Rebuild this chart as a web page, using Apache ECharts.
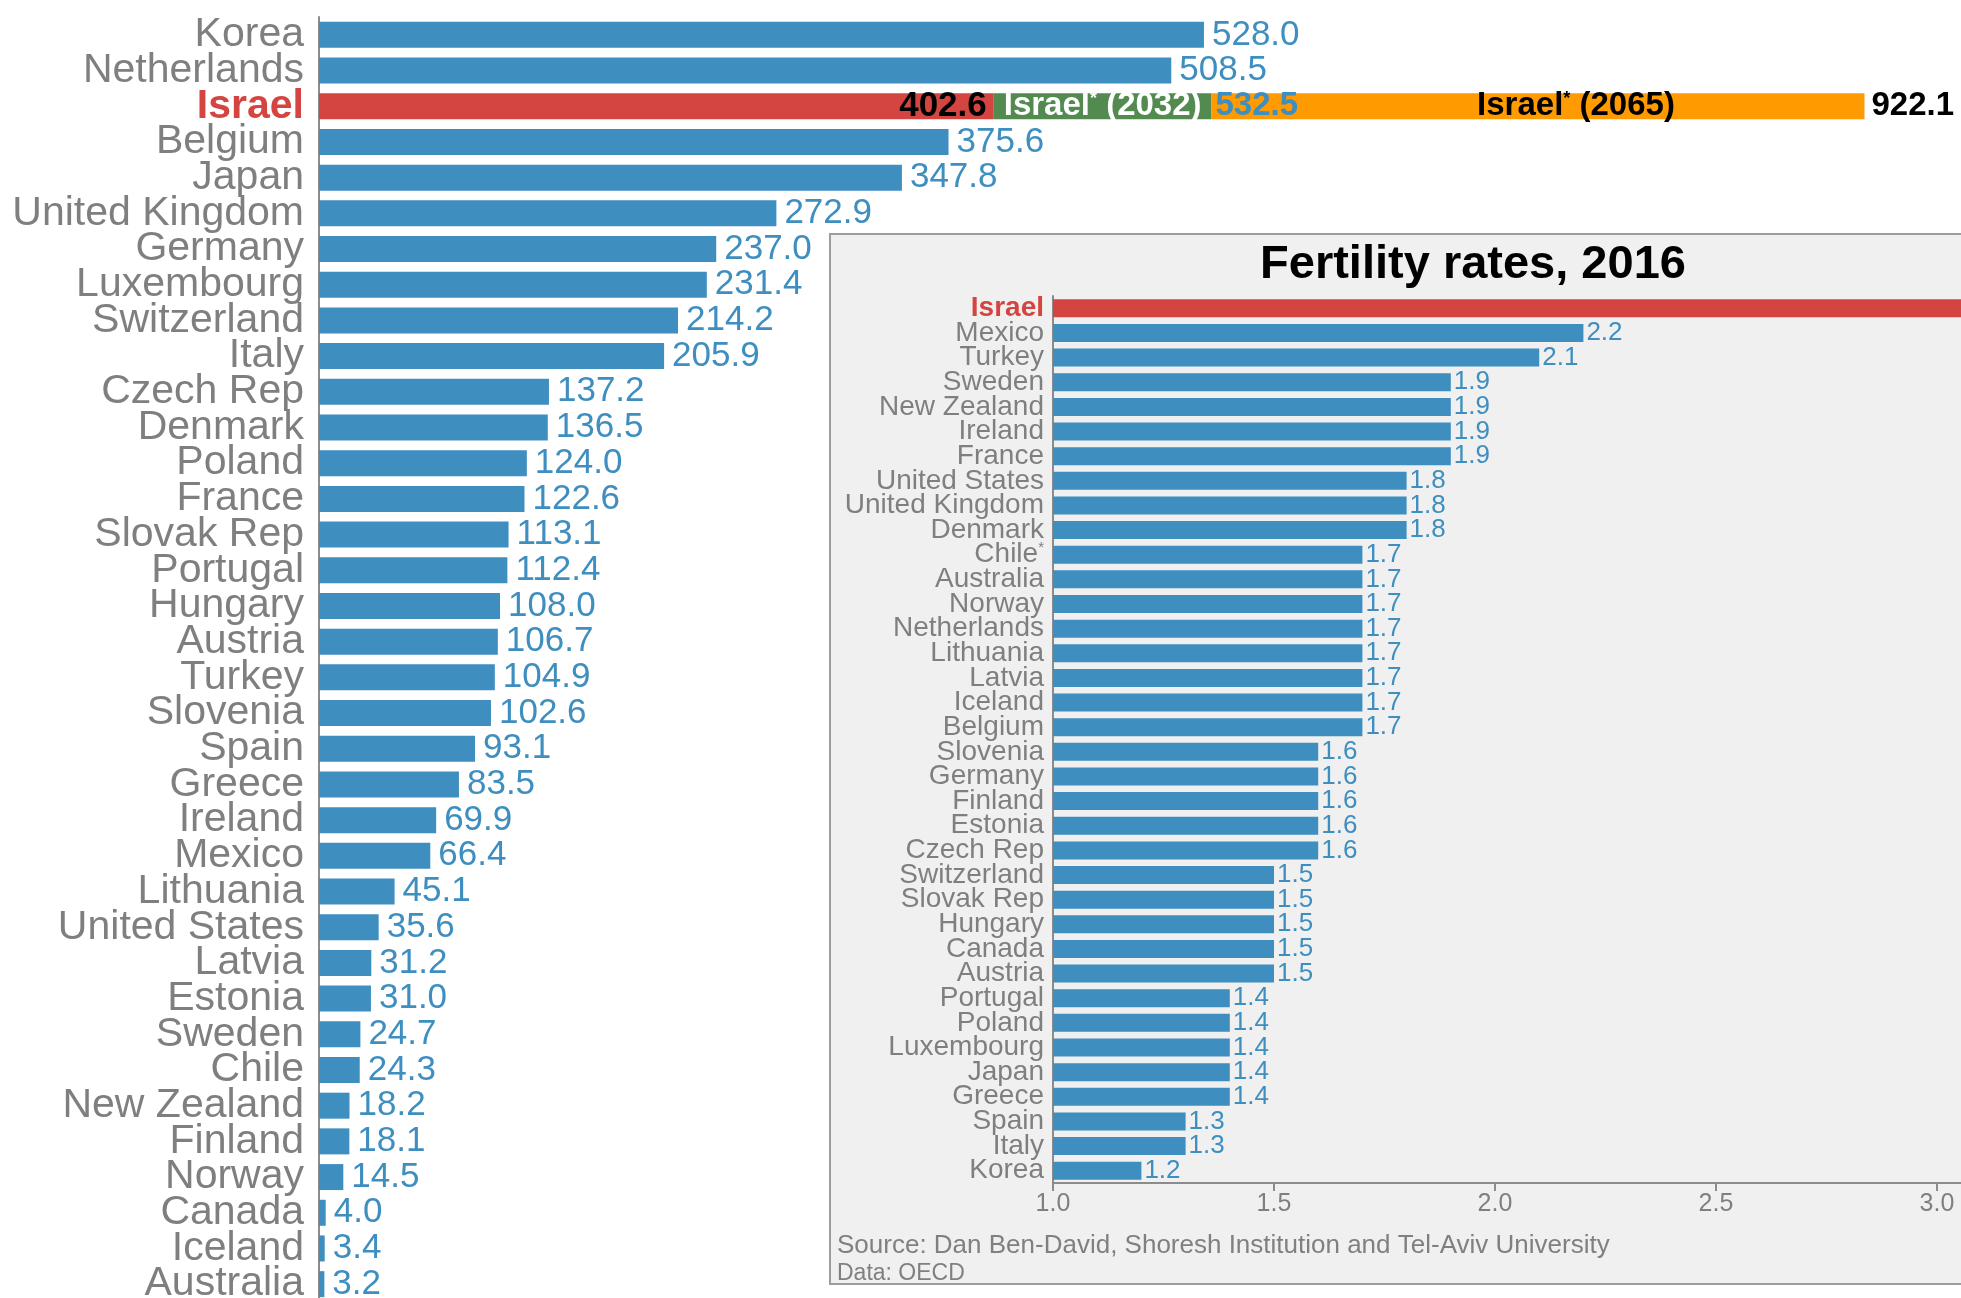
<!DOCTYPE html>
<html>
<head>
<meta charset="utf-8">
<title>Population density and fertility rates</title>
<script src="https://cdn.jsdelivr.net/npm/echarts@6/dist/echarts.min.js"></script>
<style>
  html, body { margin: 0; padding: 0; background: #ffffff; }
  #chart { width: 1961px; height: 1298px; }
</style>
</head>
<body>
<div id="chart"></div>
<script>
// population density, top to bottom
const densityCountries = ['Korea', 'Netherlands', 'Israel', 'Belgium', 'Japan', 'United Kingdom', 'Germany',
  'Luxembourg', 'Switzerland', 'Italy', 'Czech Rep', 'Denmark', 'Poland', 'France', 'Slovak Rep', 'Portugal',
  'Hungary', 'Austria', 'Turkey', 'Slovenia', 'Spain', 'Greece', 'Ireland', 'Mexico', 'Lithuania',
  'United States', 'Latvia', 'Estonia', 'Sweden', 'Chile', 'New Zealand', 'Finland', 'Norway', 'Canada',
  'Iceland', 'Australia'];
const densityValues = [528.0, 508.5, 402.6, 375.6, 347.8, 272.9, 237.0, 231.4, 214.2, 205.9, 137.2, 136.5,
  124.0, 122.6, 113.1, 112.4, 108.0, 106.7, 104.9, 102.6, 93.1, 83.5, 69.9, 66.4, 45.1, 35.6, 31.2, 31.0,
  24.7, 24.3, 18.2, 18.1, 14.5, 4.0, 3.4, 3.2];

// Israel projections
const israel2032 = 532.5;
const israel2065 = 922.1;

// fertility rates 2016, top to bottom
const fertilityCountries = ['Israel', 'Mexico', 'Turkey', 'Sweden', 'New Zealand', 'Ireland', 'France',
  'United States', 'United Kingdom', 'Denmark', 'Chile', 'Australia', 'Norway', 'Netherlands', 'Lithuania',
  'Latvia', 'Iceland', 'Belgium', 'Slovenia', 'Germany', 'Finland', 'Estonia', 'Czech Rep', 'Switzerland',
  'Slovak Rep', 'Hungary', 'Canada', 'Austria', 'Portugal', 'Poland', 'Luxembourg', 'Japan', 'Greece',
  'Spain', 'Italy', 'Korea'];
const fertilityValues = [3.1, 2.2, 2.1, 1.9, 1.9, 1.9, 1.9, 1.8, 1.8, 1.8, 1.7, 1.7, 1.7, 1.7, 1.7, 1.7,
  1.7, 1.7, 1.6, 1.6, 1.6, 1.6, 1.6, 1.5, 1.5, 1.5, 1.5, 1.5, 1.4, 1.4, 1.4, 1.4, 1.4, 1.3, 1.3, 1.2];
const fertilityTicks = [1.0, 1.5, 2.0, 2.5, 3.0];

const BLUE = '#3e8ec0';
const RED = '#d44541';
const GREEN = '#528a4f';
const ORANGE = '#ff9a00';
const GREY = '#7f7f7f';
const FONT = '"Liberation Sans", Arial, sans-serif';

const chart = echarts.init(document.getElementById('chart'), null, { renderer: 'canvas' });

const ilIdx = densityCountries.indexOf('Israel');
const onlyIsrael = (v) => densityCountries.map((c, i) => (i === ilIdx ? v : '-'));

const mainData = densityValues.map((v, i) => {
  if (i !== ilIdx) return v;
  return {
    value: v,
    itemStyle: { color: RED },
    label: { position: 'insideRight', color: '#000', fontWeight: 'bold', distance: 7 }
  };
});

// superscript asterisk for the projected Israel labels
const starRich = {
  b: { fontFamily: FONT, fontSize: 33, fontWeight: 'bold' },
  s: { fontFamily: FONT, fontSize: 18, fontWeight: 'bold', verticalAlign: 'top', padding: [0, 0, 14, 0] }
};

const option = {
  backgroundColor: '#ffffff',
  animation: false,
  textStyle: { fontFamily: FONT },
  graphic: [
    {
      type: 'rect',
      z: -10,
      shape: { x: 830, y: 234, width: 1200, height: 1050 },
      style: { fill: '#eff0ef', stroke: '#9d9d9d', lineWidth: 2 }
    },
    {
      type: 'text',
      z: 10,
      x: 1473, y: 265,
      style: {
        text: 'Fertility rates, 2016', fill: '#000', font: 'bold 47px ' + FONT,
        textAlign: 'center', textVerticalAlign: 'middle'
      }
    },
    {
      type: 'text',
      z: 10,
      x: 837, y: 1246,
      style: {
        text: 'Source: Dan Ben-David, Shoresh Institution and Tel-Aviv University',
        fill: '#808080', font: '26px ' + FONT, textAlign: 'left', textVerticalAlign: 'middle'
      }
    },
    {
      type: 'text',
      z: 10,
      x: 837, y: 1274,
      style: {
        text: 'Data: OECD', fill: '#808080', font: '23px ' + FONT,
        textAlign: 'left', textVerticalAlign: 'middle'
      }
    }
  ],
  grid: [
    { left: 319, top: 17, width: 1609, height: 1285, outerBoundsMode: 'none' },
    { left: 1053, top: 296, width: 1105, height: 887, outerBoundsMode: 'none' }
  ],
  xAxis: [
    { gridIndex: 0, type: 'value', min: 0, max: 960, show: false },
    {
      gridIndex: 1, type: 'value',
      min: fertilityTicks[0], max: 3.5, interval: fertilityTicks[1] - fertilityTicks[0],
      axisLine: { show: true, lineStyle: { color: '#8c8c8c', width: 2 } },
      axisTick: { show: true, length: 8, lineStyle: { color: '#8c8c8c', width: 2 } },
      splitLine: { show: false },
      axisLabel: {
        color: GREY, fontSize: 25, margin: 9,
        formatter: (v) => v.toFixed(1)
      }
    }
  ],
  yAxis: [
    {
      gridIndex: 0, type: 'category', data: densityCountries, inverse: true,
      axisLine: { show: true, lineStyle: { color: '#8c8c8c', width: 2 } },
      axisTick: { show: false },
      axisLabel: {
        interval: 0, color: GREY, fontSize: 41, margin: 15,
        formatter: (v) => (v === 'Israel' ? '{il|' + v + '}' : v),
        rich: { il: { color: RED, fontWeight: 'bold', fontSize: 41, fontFamily: FONT } }
      }
    },
    {
      gridIndex: 1, type: 'category', data: fertilityCountries, inverse: true,
      axisLine: { show: true, lineStyle: { color: '#8c8c8c', width: 2 } },
      axisTick: { show: false },
      axisLabel: {
        interval: 0, color: GREY, fontSize: 28, margin: 9,
        formatter: (v) => {
          if (v === 'Israel') return '{il|' + v + '}';
          if (v === 'Chile') return 'Chile{s|*}';
          return v;
        },
        rich: {
          il: { color: RED, fontWeight: 'bold', fontSize: 28, fontFamily: FONT },
          s: { color: GREY, fontSize: 15, fontFamily: FONT, verticalAlign: 'top', padding: [0, 0, 10, 0] }
        }
      }
    }
  ],
  series: [
    {
      name: 'Density',
      type: 'bar',
      xAxisIndex: 0, yAxisIndex: 0,
      stack: 'il',
      barWidth: 26, barGap: '-100%',
      itemStyle: { color: BLUE },
      label: {
        show: true, position: 'right', distance: 8,
        color: BLUE, fontSize: 35, fontFamily: FONT,
        formatter: (p) => Number(p.value).toFixed(1)
      },
      data: mainData
    },
    {
      name: 'Israel 2032',
      type: 'bar',
      xAxisIndex: 0, yAxisIndex: 0,
      stack: 'il',
      barWidth: 26, barGap: '-100%',
      itemStyle: { color: GREEN },
      label: {
        show: true, position: 'inside', color: '#fff',
        formatter: '{b|Israel}{s|*}{b| (2032)}',
        rich: starRich
      },
      data: onlyIsrael(+(israel2032 - densityValues[ilIdx]).toFixed(1))
    },
    {
      name: 'Israel 2065',
      type: 'bar',
      xAxisIndex: 0, yAxisIndex: 0,
      stack: 'il',
      barWidth: 26, barGap: '-100%',
      itemStyle: { color: ORANGE },
      label: {
        show: true, position: 'inside', color: '#000', offset: [38, 0],
        formatter: '{b|Israel}{s|*}{b| (2065)}',
        rich: starRich
      },
      data: onlyIsrael(+(israel2065 - israel2032).toFixed(1))
    },
    {
      name: 'label 2032',
      type: 'bar',
      silent: true,
      xAxisIndex: 0, yAxisIndex: 0,
      barWidth: 26, barGap: '-100%',
      itemStyle: { color: 'rgba(0,0,0,0)' },
      label: {
        show: true, position: 'right', distance: 4,
        color: BLUE, fontSize: 33, fontWeight: 'bold', fontFamily: FONT,
        formatter: (p) => Number(p.value).toFixed(1)
      },
      data: onlyIsrael(israel2032)
    },
    {
      name: 'label 2065',
      type: 'bar',
      silent: true,
      xAxisIndex: 0, yAxisIndex: 0,
      barWidth: 26, barGap: '-100%',
      itemStyle: { color: 'rgba(0,0,0,0)' },
      label: {
        show: true, position: 'right', distance: 7,
        color: '#000', fontSize: 33, fontWeight: 'bold', fontFamily: FONT,
        formatter: (p) => Number(p.value).toFixed(1)
      },
      data: onlyIsrael(israel2065)
    },
    {
      name: 'Fertility',
      type: 'bar',
      xAxisIndex: 1, yAxisIndex: 1,
      barWidth: 18,
      itemStyle: { color: BLUE },
      label: {
        show: true, position: 'right', distance: 3,
        color: BLUE, fontSize: 26, fontFamily: FONT,
        formatter: (p) => Number(p.value).toFixed(1)
      },
      data: fertilityValues.map((v, i) => (fertilityCountries[i] === 'Israel'
        ? { value: v, itemStyle: { color: RED } } : v))
    }
  ]
};

chart.setOption(option);
</script>
</body>
</html>
